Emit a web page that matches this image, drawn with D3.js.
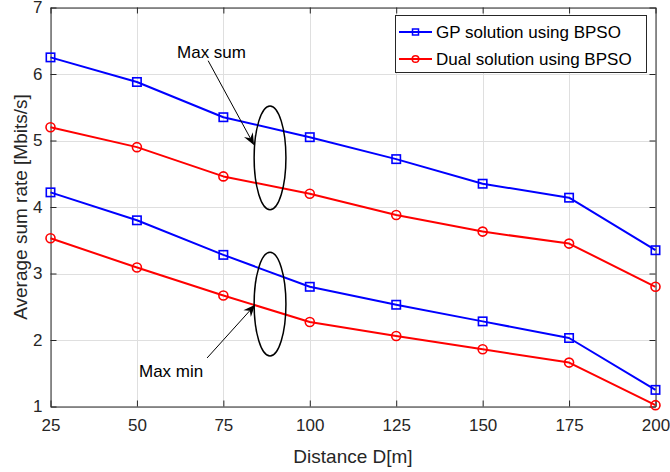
<!DOCTYPE html>
<html>
<head>
<meta charset="utf-8">
<script src="https://cdn.jsdelivr.net/npm/d3@7/dist/d3.min.js"></script>
<style>
  html, body { margin: 0; padding: 0; background: #fff; }
  svg { display: block; font-family: "Liberation Sans", Arial, Helvetica, sans-serif; }
</style>
</head>
<body>
<svg id="chart" width="670" height="472"></svg>
<script>
// ---- data ----
const distances = [25, 50, 75, 100, 125, 150, 175, 200];
const gpMaxSum   = [6.25, 5.88, 5.35, 5.05, 4.72, 4.35, 4.14, 3.35];
const dualMaxSum = [5.20, 4.90, 4.46, 4.20, 3.88, 3.63, 3.45, 2.80];
const gpMaxMin   = [4.22, 3.80, 3.28, 2.80, 2.53, 2.28, 2.03, 1.25];
const dualMaxMin = [3.53, 3.09, 2.67, 2.27, 2.06, 1.86, 1.66, 1.02];
const xTicks = [25, 50, 75, 100, 125, 150, 175, 200];
const yTicks = [1, 2, 3, 4, 5, 6, 7];
const legendLabels = ["GP solution using BPSO", "Dual solution using BPSO"];
const xTitle = "Distance D[m]";
const yTitle = "Average sum rate [Mbits/s]";
const annoText = ["Max sum", "Max min"];

// ---- layout ----
const svg = d3.select("#chart");
const L = 50.5, R = 655.5, T = 7.5, B = 406.5;
const x = d3.scaleLinear().domain([25, 200]).range([L, R]);
const y = d3.scaleLinear().domain([1, 7]).range([B, T]);
const axisColor = "#262626";
const blue = "#0000ff", red = "#ff0000";

// grid
const g = svg.append("g");
g.selectAll(".gx").data(xTicks).join("line")
  .attr("x1", d => Math.round(x(d)) + 0.5).attr("x2", d => Math.round(x(d)) + 0.5)
  .attr("y1", T).attr("y2", B).attr("stroke", "#dfdfdf").attr("stroke-width", 1);
g.selectAll(".gy").data(yTicks).join("line")
  .attr("y1", d => Math.round(y(d)) + 0.5).attr("y2", d => Math.round(y(d)) + 0.5)
  .attr("x1", L).attr("x2", R).attr("stroke", "#dfdfdf").attr("stroke-width", 1);

// axes
const fs = 17;
const xAxis = d3.axisBottom(x).tickValues(xTicks).tickFormat(d3.format("d")).tickSize(-6).tickPadding(12).tickSizeOuter(0);
const yAxis = d3.axisLeft(y).tickValues(yTicks).tickFormat(d3.format("d")).tickSize(-6).tickPadding(8).tickSizeOuter(0);
const xTop = d3.axisTop(x).tickValues(xTicks).tickSize(-6).tickFormat("").tickSizeOuter(0);
const yRight = d3.axisRight(y).tickValues(yTicks).tickSize(-6).tickFormat("").tickSizeOuter(0);

function styleAxis(sel) {
  sel.selectAll("path").attr("stroke", axisColor).attr("stroke-width", 1);
  sel.selectAll("line").attr("stroke", axisColor).attr("stroke-width", 1);
  sel.selectAll("text").attr("fill", axisColor).style("font-size", fs + "px")
    .style("font-family", "Liberation Sans, Arial, sans-serif");
}
svg.append("g").attr("transform", `translate(0,${B})`).call(xAxis).call(styleAxis);
svg.append("g").attr("transform", `translate(${L},0)`).call(yAxis).call(styleAxis);
svg.append("g").attr("transform", `translate(0,${T})`).call(xTop).call(styleAxis);
svg.append("g").attr("transform", `translate(${R},0)`).call(yRight).call(styleAxis);

// titles
svg.append("text").attr("x", (L + R) / 2).attr("y", 463).attr("text-anchor", "middle")
  .attr("fill", axisColor).style("font-size", "19px").text(xTitle);
svg.append("text").attr("transform", `translate(27,${(T + B) / 2}) rotate(-90)`)
  .attr("text-anchor", "middle").attr("fill", axisColor).style("font-size", "19px").text(yTitle);

// series
const series = [
  { vals: gpMaxSum, color: blue, marker: "square" },
  { vals: dualMaxSum, color: red, marker: "circle" },
  { vals: gpMaxMin, color: blue, marker: "square" },
  { vals: dualMaxMin, color: red, marker: "circle" }
];
const line = d3.line().x(d => x(d[0])).y(d => y(d[1]));
function drawMarker(sel, type, color) {
  if (type === "square") {
    sel.append("rect").attr("x", -4.2).attr("y", -4.2).attr("width", 8.4).attr("height", 8.4)
      .attr("fill", "none").attr("stroke", color).attr("stroke-width", 1.6);
  } else {
    sel.append("circle").attr("r", 4.5).attr("fill", "none").attr("stroke", color).attr("stroke-width", 1.6);
  }
}
series.forEach(s => {
  const pts = distances.map((d, i) => [d, s.vals[i]]);
  svg.append("path").attr("d", line(pts)).attr("fill", "none")
    .attr("stroke", s.color).attr("stroke-width", 2).attr("stroke-linejoin", "round");
  pts.forEach(p => {
    const m = svg.append("g").attr("transform", `translate(${x(p[0])},${y(p[1])})`);
    drawMarker(m, s.marker, s.color);
  });
});

// annotations (data coordinates)
const ellipses = [
  { cx: 88.5, cy: 4.74, rx: 4.6, ry: 0.78 },
  { cx: 88.5, cy: 2.54, rx: 4.6, ry: 0.78 }
];
ellipses.forEach(e => {
  svg.append("ellipse").attr("cx", x(e.cx)).attr("cy", y(e.cy))
    .attr("rx", x(e.cx + e.rx) - x(e.cx)).attr("ry", y(e.cy - e.ry) - y(e.cy))
    .attr("fill", "none").attr("stroke", "#000").attr("stroke-width", 1.5);
});
const arrows = [
  { x0: 70.6, y0: 6.20, x1: 83.9, y1: 4.93 },
  { x0: 70.3, y0: 1.73, x1: 84.2, y1: 2.53 }
];
arrows.forEach(a => {
  const X0 = x(a.x0), Y0 = y(a.y0), X1 = x(a.x1), Y1 = y(a.y1);
  const ang = Math.atan2(Y1 - Y0, X1 - X0);
  const len = 12, w = 5, back = 8;
  const ux = Math.cos(ang), uy = Math.sin(ang);
  const nx = -uy, ny = ux;
  svg.append("line").attr("x1", X0).attr("y1", Y0)
    .attr("x2", X1 - ux * back).attr("y2", Y1 - uy * back)
    .attr("stroke", "#000").attr("stroke-width", 1);
  const p = [
    [X1, Y1],
    [X1 - ux * len + nx * w, Y1 - uy * len + ny * w],
    [X1 - ux * back, Y1 - uy * back],
    [X1 - ux * len - nx * w, Y1 - uy * len - ny * w]
  ];
  svg.append("path").attr("d", "M" + p.map(q => q.join(",")).join("L") + "Z").attr("fill", "#000");
});
const annoPos = [ { x: 61.6, y: 6.24 }, { x: 50.6, y: 1.44 } ];
annoText.forEach((t, i) => {
  svg.append("text").attr("x", x(annoPos[i].x)).attr("y", y(annoPos[i].y))
    .attr("fill", "#000").style("font-size", fs + "px").text(t);
});

// legend
const lg = svg.append("g");
lg.append("rect").attr("x", 395.5).attr("y", 15.5).attr("width", 251).attr("height", 57)
  .attr("fill", "#fff").attr("stroke", axisColor).attr("stroke-width", 1);
[{ c: blue, m: "square" }, { c: red, m: "circle" }].forEach((s, i) => {
  const yy = 32 + i * 27;
  lg.append("line").attr("x1", 399).attr("x2", 432).attr("y1", yy).attr("y2", yy)
    .attr("stroke", s.c).attr("stroke-width", 2);
  const m = lg.append("g").attr("transform", `translate(415.5,${yy})`);
  if (s.m === "square") {
    m.append("rect").attr("x", -3).attr("y", -3).attr("width", 6).attr("height", 6)
      .attr("fill", "none").attr("stroke", s.c).attr("stroke-width", 1.5);
  } else {
    m.append("circle").attr("r", 3.3).attr("fill", "none").attr("stroke", s.c).attr("stroke-width", 1.5);
  }
  lg.append("text").attr("x", 436).attr("y", yy + 6).attr("fill", "#000")
    .style("font-size", fs + "px").text(legendLabels[i]);
});
</script>
</body>
</html>
